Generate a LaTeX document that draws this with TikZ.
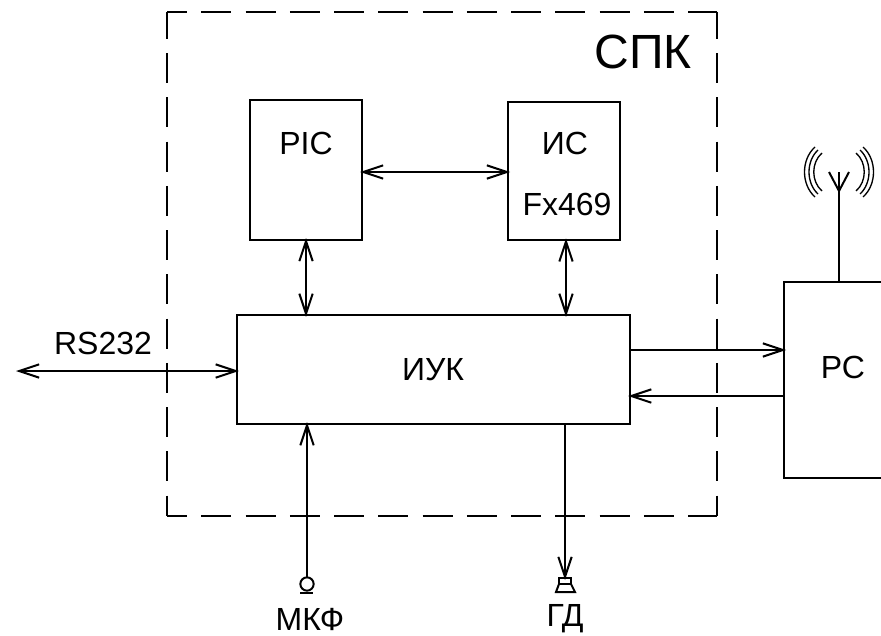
\documentclass[tikz,border=0pt]{standalone}
\usepackage{fontspec}
\setmainfont{Liberation Sans}
\usetikzlibrary{arrows.meta}
\tikzset{
    wire/.style={line width=1.5pt},
    tipped/.style={wire, shorten >=-1.5pt},
    bothtipped/.style={tipped, shorten <=-1.5pt},
    block/.style={draw, line width=1.6pt, rectangle, inner sep=0pt, outer sep=0pt},
    caption/.style={inner sep=0pt, font=\fontsize{24}{24}\selectfont},
    dashside/.style={line width=1.5pt, dash pattern=on 22.5pt off 10.7pt, dash phase=2.4pt},
    wave/.style={line width=1pt},
    >={Straight Barb[length=15pt,width=10pt]}
}
\begin{document}
\begin{tikzpicture}[x=0.75pt,y=-0.75pt]
        \useasboundingbox (0,0) rectangle (881,635);
        \clip (0,0) rectangle (881,635);

        % Draw the dashed frame
        \coordinate (frameA) at (167,12);
        \coordinate (frameB) at (717,12);
        \coordinate (frameC) at (717,516);
        \coordinate (frameD) at (167,516);
        \draw[dashside, dash phase=7.5pt] (frameA) -- (frameB);
        \draw[dashside] (frameA) -- (frameD);
        \draw[dashside] (frameB) -- (frameC);
        \draw[dashside, dash phase=7.5pt] (frameD) -- (frameC);
        \node[caption, font=\fontsize{36}{36}\selectfont] (spk) at (643,52) {СПК};

        % Draw the blocks
        \node[block, minimum width=84pt, minimum height=105pt] (pic) at (306,170) {};
        \node[block, minimum width=84pt, minimum height=104pt] (ic) at (564,171) {};
        \node[block, minimum width=295pt, minimum height=82pt] (iuk) at (433.5,369.5) {};
        \node[block, minimum width=100pt, minimum height=147pt] (rc) at (850.7,380) {};

        % Label the blocks
        \node[caption] (piclabel) at (306,143) {PIC};
        \node[caption] (iclabel) at (565,143) {ИС};
        \node[caption] (fxlabel) at (567,204) {Fx469};
        \node[caption] (iuklabel) at (433,370) {ИУК};
        \node[caption] (rclabel) at (843,367) {РС};
        \node[caption] (rslabel) at (103,343) {RS232};
        \node[caption] (mkflabel) at (310,619) {МКФ};
        \node[caption] (gdlabel) at (565,619) {ГД};

        % Draw the buses between the blocks
        \coordinate (icbus) at (566,280);
        \coordinate (rsend) at (18,371);
        \draw[bothtipped, <->] (pic.east |- 0,172) -- (ic.west |- 0,172);
        \draw[bothtipped, <->] (pic.south) -- (pic.south |- iuk.north);
        \draw[bothtipped, <->] (icbus |- ic.south) -- (icbus |- iuk.north);
        \draw[bothtipped, <->] (rsend) -- (rsend -| iuk.west);
        \draw[tipped, ->] (iuk.east |- 0,350) -- (rc.west |- 0,350);
        \draw[tipped, ->] (rc.west |- 0,396) -- (iuk.east |- 0,396);

        % Draw the microphone
        \node[draw, wire, circle, minimum size=10pt, inner sep=0pt, outer sep=0pt] (mkf) at (307,584) {};
        \draw[line width=2pt] (300,593) -- (313,593);
        \draw[tipped, ->] (mkf) -- (mkf |- iuk.south);

        % Draw the speaker
        \coordinate (gd) at (565,578);
        \draw[wire] (559,578) rectangle (571,584);
        \draw[wire] (559,584) -- (556,592) -- (575,592) -- (571,584);
        \draw[tipped, ->] (gd |- iuk.south) -- (gd);

        % Draw the antenna
        \coordinate (ant) at (839,172);
        \draw[wire] (rc.north -| ant) -- (ant);
        \draw[wire] (829,172) -- (839,191) -- (849,172);
        \foreach \dx/\top/\far in {24/25/35, 21/22/30, 17/19/25}{
            \draw[wave] (839-\dx,172-\top) .. controls (839-\far-3,172-\top/2) and (839-\far-3,172+\top/2) .. (839-\dx,172+\top);
            \draw[wave] (839+\dx,172-\top) .. controls (839+\far+3,172-\top/2) and (839+\far+3,172+\top/2) .. (839+\dx,172+\top);
        }
    \end{tikzpicture}
\end{document}
